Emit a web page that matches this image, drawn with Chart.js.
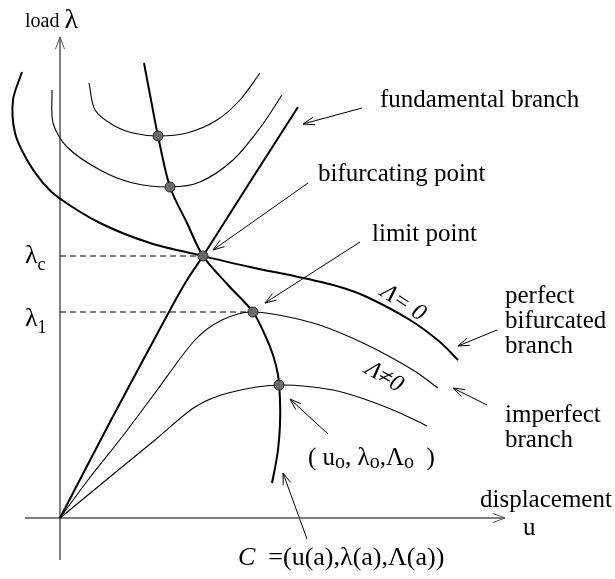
<!DOCTYPE html>
<html>
<head>
<meta charset="utf-8">
<script src="https://cdn.jsdelivr.net/npm/chart.js@4/dist/chart.umd.min.js"></script>
<style>
html,body{margin:0;padding:0;background:#fff;}
#wrap{width:615px;height:579px;position:relative;}
</style>
</head>
<body>
<div id="wrap"><canvas id="c" width="615" height="579"></canvas></div>
<script>
// ---- data (u = displacement, lambda = load), schematic values ----
const fundamentalU = [0, 0.50, 1.10, 1.27, 1.43, 1.90, 2.38];
const fundamentalL = [0, 0.96, 2.08, 2.38, 2.62, 3.36, 4.11];

const locusU = [0.84, 0.91, 0.98, 1.10, 1.27, 1.43, 1.68, 1.93, 2.05, 2.13, 2.18, 2.20, 2.20, 2.18, 2.15, 2.12];
const locusL = [4.55, 4.18, 3.82, 3.31, 2.95, 2.62, 2.33, 2.06, 1.83, 1.63, 1.43, 1.18, 0.93, 0.68, 0.50, 0.35];

const perfectU = [-0.38, -0.47, -0.45, -0.33, -0.17, -0.01, 0.40, 0.90, 1.43, 1.90, 2.43, 2.80, 3.07, 3.50, 3.80, 3.98];
const perfectL = [4.46, 4.18, 3.85, 3.58, 3.35, 3.20, 2.95, 2.75, 2.62, 2.51, 2.40, 2.31, 2.21, 1.98, 1.76, 1.58];

const upperAU = [0.29, 0.35, 0.53, 0.73, 0.98, 1.27, 1.57, 1.80, 2.00];
const upperAL = [4.35, 4.08, 3.93, 3.85, 3.82, 3.85, 3.98, 4.18, 4.45];

const upperBU = [-0.08, -0.07, 0.07, 0.40, 0.73, 1.10, 1.40, 1.73, 2.00, 2.22];
const upperBL = [4.28, 3.95, 3.71, 3.48, 3.35, 3.31, 3.36, 3.58, 3.90, 4.23];

const lowerDU = [0, 0.28, 0.62, 0.95, 1.35, 1.62, 1.93, 2.53, 3.03, 3.53, 3.78];
const lowerDL = [0, 0.38, 0.81, 1.25, 1.78, 1.98, 2.06, 1.95, 1.75, 1.48, 1.30];

const lowerEU = [0, 0.28, 0.62, 0.95, 1.35, 1.68, 2.19, 2.73, 3.07, 3.40, 3.67];
const lowerEL = [0, 0.23, 0.51, 0.78, 1.11, 1.25, 1.33, 1.28, 1.18, 1.05, 0.92];

const markU = [0.98, 1.10, 1.43, 1.93, 2.19];
const markL = [3.82, 3.31, 2.62, 2.06, 1.33];

const lambdaC = 2.62;
const lambdaL = 2.06;

const axisVU = [0, 0];
const axisVL = [-0.42, 4.81];
const axisHU = [-0.35, 4.45];
const axisHL = [0, 0];

// annotation arrows: [fromU, fromL, toU, toL]
const arrowFundamental = [3.02, 4.10, 2.43, 3.94];
const arrowBifurcating = [2.48, 3.35, 1.53, 2.68];
const arrowLimit       = [3.00, 2.76, 2.05, 2.15];
const arrowPerfect     = [4.37, 1.88, 3.98, 1.72];
const arrowImperfect   = [4.27, 1.13, 3.93, 1.30];
const arrowPoint       = [2.68, 0.84, 2.30, 1.19];
const arrowLocus       = [2.47, -0.21, 2.23, 0.45];
const arrows = [arrowFundamental, arrowBifurcating, arrowLimit, arrowPerfect, arrowImperfect, arrowPoint, arrowLocus];

// ---- build datasets ----
const zip = (us, ls) => us.map((u, i) => ({x: u, y: ls[i]}));
const line = (us, ls, w, extra) => Object.assign({
  data: zip(us, ls), showLine: true, borderColor: '#000', borderWidth: w,
  pointRadius: 0, tension: 0.3, fill: false
}, extra || {});

const datasets = [
  {data: zip(markU, markL), showLine: false, pointRadius: 5, pointHoverRadius: 5,
   pointBackgroundColor: 'rgba(105,105,105,0.95)', pointBorderColor: '#222', pointBorderWidth: 1},
  line(fundamentalU, fundamentalL, 2, {tension: 0.2}),
  line(locusU, locusL, 2),
  line(perfectU, perfectL, 2),
  line(upperAU, upperAL, 1.1),
  line(upperBU, upperBL, 1.1),
  line(lowerDU, lowerDL, 1.1),
  line(lowerEU, lowerEL, 1.1),
  line([0, markU[2]], [lambdaC, lambdaC], 1, {borderDash: [6, 4], tension: 0}),
  line([0, markU[3]], [lambdaL, lambdaL], 1, {borderDash: [6, 4], tension: 0}),
  line(axisVU, axisVL, 1.5, {borderColor: '#555', tension: 0}),
  line(axisHU, axisHL, 1.5, {borderColor: '#555', tension: 0}),
];
arrows.forEach(a => datasets.push(line([a[0], a[2]], [a[1], a[3]], 1, {tension: 0})));

const SERIF = '"Liberation Serif", "Times New Roman", "DejaVu Serif", serif';

function head(ctx, x1, y1, x2, y2, len, ang, color) {
  const t = Math.atan2(y2 - y1, x2 - x1);
  ctx.save();
  ctx.strokeStyle = color; ctx.lineWidth = 1;
  ctx.beginPath();
  ctx.moveTo(x2 - len * Math.cos(t - ang), y2 - len * Math.sin(t - ang));
  ctx.lineTo(x2, y2);
  ctx.lineTo(x2 - len * Math.cos(t + ang), y2 - len * Math.sin(t + ang));
  ctx.stroke();
  ctx.restore();
}

function runs(ctx, x, y, parts) {
  parts.forEach(p => {
    ctx.font = p[1];
    ctx.fillText(p[0], x, y + (p[2] || 0));
    x += ctx.measureText(p[0]).width;
  });
}

const simpleLabels = [
  ['fundamental branch', 3.20, 4.11],
  ['bifurcating point', 2.58, 3.37],
  ['limit point', 3.12, 2.77],
  ['perfect', 4.45, 2.15],
  ['bifurcated', 4.45, 1.90],
  ['branch', 4.45, 1.65],
  ['imperfect', 4.45, 0.96],
  ['branch', 4.45, 0.71],
  ['displacement', 4.20, 0.11],
  ['u', 4.63, -0.17],
];

const decor = {
  id: 'decor',
  afterDatasetsDraw(chart) {
    const ctx = chart.ctx, xs = chart.scales.x, ys = chart.scales.y;
    const P = (u, l) => [xs.getPixelForValue(u), ys.getPixelForValue(l)];
    arrows.forEach(a => {
      const p1 = P(a[0], a[1]), p2 = P(a[2], a[3]);
      head(ctx, p1[0], p1[1], p2[0], p2[1], 12, 0.33, '#000');
    });
    let a1 = P(axisVU[0], axisVL[0]), a2 = P(axisVU[1], axisVL[1]);
    head(ctx, a1[0], a1[1], a2[0], a2[1], 13, 0.36, '#555');
    a1 = P(axisHU[0], axisHL[0]); a2 = P(axisHU[1], axisHL[1]);
    head(ctx, a1[0], a1[1], a2[0], a2[1], 13, 0.36, '#555');

    ctx.save();
    ctx.fillStyle = '#000';
    ctx.textBaseline = 'alphabetic';
    ctx.textAlign = 'left';
    ctx.font = '25px ' + SERIF;
    simpleLabels.forEach(s => { const p = P(s[1], s[2]); ctx.fillText(s[0], p[0], p[1]); });

    let p = P(-0.35, 4.91);
    runs(ctx, p[0], p[1], [['load ', '20px ' + SERIF], ['λ', '28px ' + SERIF, 1]]);

    p = P(-0.35, lambdaC - 0.07);
    runs(ctx, p[0], p[1], [['λ', '26px ' + SERIF], ['c', '18px ' + SERIF, 7]]);
    p = P(-0.35, lambdaL - 0.14);
    runs(ctx, p[0], p[1], [['λ', '26px ' + SERIF], ['1', '18px ' + SERIF, 7]]);

    p = P(2.48, 0.53);
    const M = '25px ' + SERIF, S = '20px ' + SERIF;
    runs(ctx, p[0], p[1], [['( u', M], ['o', S, 3], [', ', M], ['λ', M], ['o', S, 3], [',', M], ['Λ', M], ['o', S, 3], ['  )', M]]);

    p = P(1.78, -0.47);
    runs(ctx, p[0], p[1], [['C', 'italic 26px ' + SERIF], ['  =(u(a),λ(a),Λ(a))', '26px ' + SERIF]]);

    p = P(3.43, 2.15);
    ctx.save(); ctx.translate(p[0], p[1]); ctx.rotate(33 * Math.PI / 180);
    ctx.textAlign = 'center'; ctx.textBaseline = 'middle';
    ctx.font = 'italic 24px ' + SERIF; ctx.fillText('Λ= 0', 0, 0);
    ctx.restore();
    p = P(3.24, 1.41);
    ctx.save(); ctx.translate(p[0], p[1]); ctx.rotate(30 * Math.PI / 180);
    ctx.textAlign = 'center'; ctx.textBaseline = 'middle';
    ctx.font = 'italic 24px ' + SERIF; ctx.fillText('Λ≠0', 0, 0);
    ctx.restore();
    ctx.restore();
  }
};

new Chart(document.getElementById('c'), {
  type: 'scatter',
  data: {datasets},
  options: {
    responsive: false,
    animation: false,
    events: [],
    layout: {padding: 0, autoPadding: false},
    plugins: {legend: {display: false}, tooltip: {enabled: false}},
    scales: {
      x: {type: 'linear', display: false, min: -0.60, max: 5.55},
      y: {type: 'linear', display: false, min: -0.61, max: 5.18}
    }
  },
  plugins: [decor]
});
</script>
</body>
</html>
